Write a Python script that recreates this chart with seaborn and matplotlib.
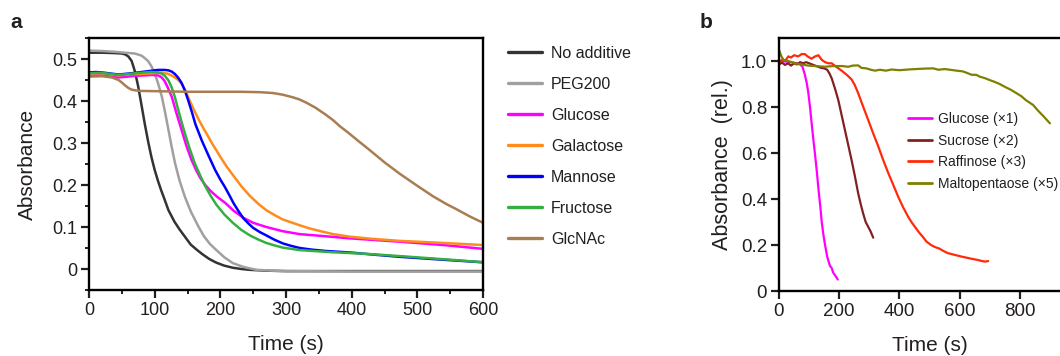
import matplotlib
matplotlib.use("Agg")
import matplotlib.pyplot as plt
from matplotlib.ticker import AutoMinorLocator, FixedLocator
import numpy as np
import pandas as pd
import seaborn as sns

## ---- panel a data ----
samples_a = ["No additive", "PEG200", "Glucose", "Galactose", "Mannose", "Fructose", "GlcNAc"]
colors_a = ["#333333", "#a0a0a0", "#ff00ff", "#ff8c1a", "#0000ff", "#33b040", "#a87d52"]

noadd_t = [0, 20, 40, 50, 55, 60, 65, 70, 75, 80, 85, 90, 95, 100, 105, 110, 115, 121, 130, 138, 146,
           155, 164, 172, 183, 194, 206, 219, 232, 245, 270, 300, 400, 500, 600]
noadd_y = [0.515, 0.515, 0.514, 0.513, 0.511, 0.506, 0.495, 0.47, 0.434, 0.39, 0.345, 0.304, 0.267,
           0.236, 0.21, 0.187, 0.166, 0.14, 0.113, 0.094, 0.077, 0.058, 0.046, 0.036, 0.024, 0.015,
           0.008, 0.003, 0.0, -0.002, -0.004, -0.005, -0.005, -0.005, -0.005]

peg_t = [0, 20, 40, 55, 70, 80, 85, 90, 95, 100, 105, 111, 116, 121, 126, 131, 138, 146, 155, 166,
         175, 184, 194, 206, 219, 235, 255, 280, 300, 400, 600]
peg_y = [0.52, 0.519, 0.517, 0.515, 0.513, 0.508, 0.502, 0.495, 0.483, 0.466, 0.443, 0.41, 0.372,
         0.331, 0.29, 0.252, 0.21, 0.172, 0.137, 0.103, 0.078, 0.06, 0.045, 0.028, 0.014, 0.005,
         -0.002, -0.004, -0.005, -0.006, -0.006]

glc_t = [0, 10, 20, 35, 45, 58, 70, 85, 95, 105, 110, 115, 120, 126, 133, 141, 148, 156, 163, 169,
         177, 185, 195, 207, 220, 235, 250, 270, 295, 321, 360, 397, 435, 473, 540, 600]
glc_y = [0.46, 0.461, 0.461, 0.458, 0.456, 0.458, 0.46, 0.461, 0.462, 0.461, 0.457, 0.448, 0.432,
         0.41, 0.372, 0.331, 0.295, 0.26, 0.236, 0.218, 0.2, 0.186, 0.172, 0.158, 0.139, 0.122,
         0.11, 0.1, 0.09, 0.083, 0.078, 0.073, 0.069, 0.065, 0.057, 0.048]

gal_t = [0, 10, 20, 35, 45, 58, 70, 85, 95, 111, 120, 128, 136, 141, 146, 153, 161, 168, 175, 181,
         187, 195, 202, 210, 219, 232, 245, 258, 270, 283, 295, 308, 321, 335, 350, 372, 397, 430,
         473, 540, 600]
gal_y = [0.465, 0.466, 0.466, 0.463, 0.461, 0.463, 0.464, 0.465, 0.466, 0.467, 0.465, 0.459, 0.45,
         0.441, 0.427, 0.402, 0.375, 0.353, 0.333, 0.317, 0.3, 0.28, 0.262, 0.243, 0.224, 0.197,
         0.174, 0.155, 0.14, 0.128, 0.118, 0.111, 0.104, 0.097, 0.091, 0.083, 0.077, 0.072, 0.067,
         0.062, 0.057]

man_t = [0, 10, 20, 35, 45, 58, 70, 85, 95, 105, 115, 121, 126, 131, 136, 141, 146, 151, 157, 162,
         167, 172, 182, 192, 200, 207, 214, 220, 228, 235, 243, 250, 260, 270, 282, 295, 308, 321,
         340, 360, 400, 435, 473, 540, 600]
man_y = [0.468, 0.469, 0.468, 0.465, 0.463, 0.465, 0.467, 0.47, 0.472, 0.474, 0.474, 0.473, 0.47,
         0.464, 0.455, 0.443, 0.425, 0.402, 0.372, 0.345, 0.325, 0.305, 0.27, 0.236, 0.213, 0.195,
         0.175, 0.157, 0.137, 0.121, 0.108, 0.098, 0.088, 0.08, 0.07, 0.061, 0.055, 0.05, 0.046,
         0.043, 0.039, 0.034, 0.029, 0.022, 0.016]

fru_t = [0, 10, 20, 35, 45, 58, 70, 85, 95, 105, 111, 116, 121, 126, 131, 136, 141, 146, 153, 161,
         169, 176, 185, 194, 206, 219, 232, 245, 258, 270, 283, 295, 321, 370, 423, 480, 524, 560, 600]
fru_y = [0.466, 0.467, 0.467, 0.464, 0.462, 0.464, 0.466, 0.468, 0.469, 0.468, 0.465, 0.459, 0.449,
         0.432, 0.408, 0.378, 0.35, 0.323, 0.288, 0.252, 0.224, 0.2, 0.175, 0.153, 0.13, 0.11,
         0.093, 0.08, 0.07, 0.062, 0.056, 0.051, 0.045, 0.04, 0.036, 0.03, 0.025, 0.021, 0.016]

nac_t = [0, 20, 35, 45, 50, 55, 60, 65, 72, 80, 150, 230, 260, 280, 295, 310, 320, 331, 345, 360,
         372, 382, 396, 410, 422, 433, 450, 473, 500, 524, 545, 560, 580, 600]
nac_y = [0.458, 0.459, 0.456, 0.45, 0.444, 0.437, 0.431, 0.427, 0.425, 0.424, 0.422, 0.422, 0.421,
         0.419, 0.415, 0.409, 0.404, 0.396, 0.384, 0.368, 0.354, 0.34, 0.323, 0.305, 0.29, 0.276,
         0.254, 0.227, 0.198, 0.173, 0.154, 0.142, 0.125, 0.11]

## ---- panel b data ----
samples_b = ["Glucose (\u00d71)", "Sucrose (\u00d72)", "Raffinose (\u00d73)", "Maltopentaose (\u00d75)"]
colors_b = ["#ff00ff", "#842020", "#ff2a0a", "#7f7f00"]

b_glc_t = [0, 20, 40, 60, 70, 78, 86, 92, 97, 103, 108, 114, 120, 126, 131, 137, 142, 148, 153,
           160, 169, 175, 180, 188, 195]
b_glc_y = [1.0, 0.998, 0.995, 0.99, 0.985, 0.975, 0.94, 0.905, 0.866, 0.8, 0.735, 0.66, 0.59, 0.515,
           0.445, 0.37, 0.3, 0.24, 0.2, 0.15, 0.11, 0.1, 0.08, 0.065, 0.05]

b_suc_t = [0, 10, 20, 30, 40, 50, 60, 70, 80, 90, 100, 110, 120, 130, 140, 150, 160, 168, 175, 186,
           197, 208, 219, 230, 241, 252, 263, 272, 280, 288, 296, 304, 313]
b_suc_y = [0.985, 0.993, 0.983, 0.99, 0.98, 0.99, 0.985, 0.995, 0.99, 0.995, 0.99, 0.985, 0.98,
           0.975, 0.97, 0.968, 0.962, 0.945, 0.925, 0.88, 0.83, 0.765, 0.7, 0.635, 0.57, 0.5,
           0.425, 0.375, 0.335, 0.3, 0.28, 0.26, 0.232]

b_raf_t = [0, 10, 20, 31, 40, 50, 64, 75, 86, 95, 108, 120, 131, 142, 153, 165, 175, 190, 208, 225,
           241, 252, 263, 280, 296, 313, 330, 346, 363, 380, 396, 412, 429, 440, 451, 465, 478, 490,
           505, 520, 532, 545, 560, 575, 590, 605, 623, 640, 660, 675, 685, 695]
b_raf_y = [0.995, 1.005, 1.0, 1.02, 1.015, 1.025, 1.02, 1.03, 1.03, 1.02, 1.01, 1.02, 1.025, 1.005,
           0.995, 0.99, 0.99, 0.975, 0.958, 0.94, 0.92, 0.895, 0.86, 0.8, 0.745, 0.685, 0.628,
           0.57, 0.513, 0.46, 0.41, 0.365, 0.323, 0.3, 0.28, 0.255, 0.235, 0.215, 0.2, 0.19, 0.185,
           0.175, 0.165, 0.16, 0.155, 0.15, 0.145, 0.14, 0.135, 0.13, 0.128, 0.13]

b_mal_t = [0, 8, 15, 30, 53, 75, 97, 120, 153, 180, 208, 230, 245, 263, 274, 290, 305, 319, 335,
           355, 374, 400, 429, 455, 485, 512, 530, 550, 568, 590, 610, 623, 640, 655, 667, 685,
           700, 715, 733, 750, 770, 789, 805, 820, 844, 860, 880, 900]
b_mal_y = [1.048, 1.02, 1.005, 1.0, 0.99, 0.985, 0.98, 0.978, 0.975, 0.978, 0.978, 0.975, 0.98,
           0.981, 0.97, 0.968, 0.962, 0.958, 0.962, 0.958, 0.963, 0.96, 0.963, 0.965, 0.967, 0.968,
           0.962, 0.965, 0.962, 0.958, 0.955, 0.949, 0.94, 0.94, 0.932, 0.925, 0.917, 0.91, 0.9,
           0.888, 0.875, 0.86, 0.847, 0.83, 0.809, 0.785, 0.758, 0.729]


def long_df(names, ts, ys):
    parts = [pd.DataFrame({"time": t, "value": y, "sample": n}) for n, t, y in zip(names, ts, ys)]
    return pd.concat(parts, ignore_index=True)


df_a = long_df(samples_a,
               [noadd_t, peg_t, glc_t, gal_t, man_t, fru_t, nac_t],
               [noadd_y, peg_y, glc_y, gal_y, man_y, fru_y, nac_y])
df_b = long_df(samples_b,
               [b_glc_t, b_suc_t, b_raf_t, b_mal_t],
               [b_glc_y, b_suc_y, b_raf_y, b_mal_y])

sns.set_theme(style="ticks")
plt.rcParams["font.family"] = ["Liberation Sans", "DejaVu Sans"]
plt.rcParams["text.color"] = "#231f20"
plt.rcParams["axes.labelcolor"] = "#231f20"
plt.rcParams["xtick.color"] = "#231f20"
plt.rcParams["ytick.color"] = "#231f20"

fig = plt.figure(figsize=(10.6, 3.56), dpi=100)
ax_a = fig.add_axes([89 / 1060, 66 / 356, 394 / 1060, 252 / 356])
ax_b = fig.add_axes([779 / 1060, 65 / 356, 301 / 1060, 253 / 356])

### panel a
sns.lineplot(data=df_a, x="time", y="value", hue="sample", hue_order=samples_a,
             palette=colors_a, estimator=None, sort=False, linewidth=1.8, ax=ax_a)
ax_a.set_xlim(0, 600)
ax_a.set_ylim(-0.05, 0.55)
ax_a.xaxis.set_major_locator(FixedLocator([0, 100, 200, 300, 400, 500, 600]))
ax_a.yaxis.set_major_locator(FixedLocator([0, 0.1, 0.2, 0.3, 0.4, 0.5]))
ax_a.set_yticklabels(["0", "0.1", "0.2", "0.3", "0.4", "0.5"])
ax_a.xaxis.set_minor_locator(AutoMinorLocator(2))
ax_a.yaxis.set_minor_locator(AutoMinorLocator(2))
ax_a.set_xlabel("Time (s)", fontsize=15, labelpad=12)
ax_a.set_ylabel("Absorbance", fontsize=15, labelpad=11)
ax_a.legend(loc="upper left", bbox_to_anchor=(508 / 1060, 1 - 46 / 356),
            bbox_transform=fig.transFigure, frameon=False, fontsize=11.5,
            handlelength=2.1, handletextpad=0.6, labelspacing=1.0,
            borderpad=0, borderaxespad=0)
for leg_line in ax_a.get_legend().get_lines():
    leg_line.set_linewidth(2.4)

### panel b
sns.lineplot(data=df_b, x="time", y="value", hue="sample", hue_order=samples_b,
             palette=colors_b, estimator=None, sort=False, linewidth=1.6, ax=ax_b)
ax_b.set_xlim(0, 1000)
ax_b.set_ylim(0, 1.1)
ax_b.xaxis.set_major_locator(FixedLocator([0, 200, 400, 600, 800]))
ax_b.yaxis.set_major_locator(FixedLocator([0, 0.2, 0.4, 0.6, 0.8, 1.0]))
ax_b.set_yticklabels(["0", "0.2", "0.4", "0.6", "0.8", "1.0"])
ax_b.set_xlabel("Time (s)", fontsize=15, labelpad=12)
ax_b.set_ylabel("Absorbance  (rel.)", fontsize=15.5, labelpad=6)
ax_b.legend(loc="upper left", bbox_to_anchor=(908 / 1060, 1 - 112 / 356),
            bbox_transform=fig.transFigure, frameon=False, fontsize=10,
            handlelength=1.7, handletextpad=0.45, labelspacing=0.55,
            borderpad=0, borderaxespad=0)
for leg_line in ax_b.get_legend().get_lines():
    leg_line.set_linewidth(2.0)

for ax in (ax_a, ax_b):
    for sp in ax.spines.values():
        sp.set_linewidth(1.7)
        sp.set_color("black")
        sp.set_visible(True)
    ax.tick_params(which="major", direction="out", length=5.5, width=1.6, labelsize=13, pad=3)
    ax.tick_params(which="minor", direction="out", length=3, width=1.4)
ax_b.tick_params(which="major", labelsize=13.5)

fig.text(10 / 1060, 1 - 28 / 356, "a", fontsize=15, fontweight="bold")
fig.text(700 / 1060, 1 - 28 / 356, "b", fontsize=15, fontweight="bold")

fig.savefig("out.png", dpi=100)
